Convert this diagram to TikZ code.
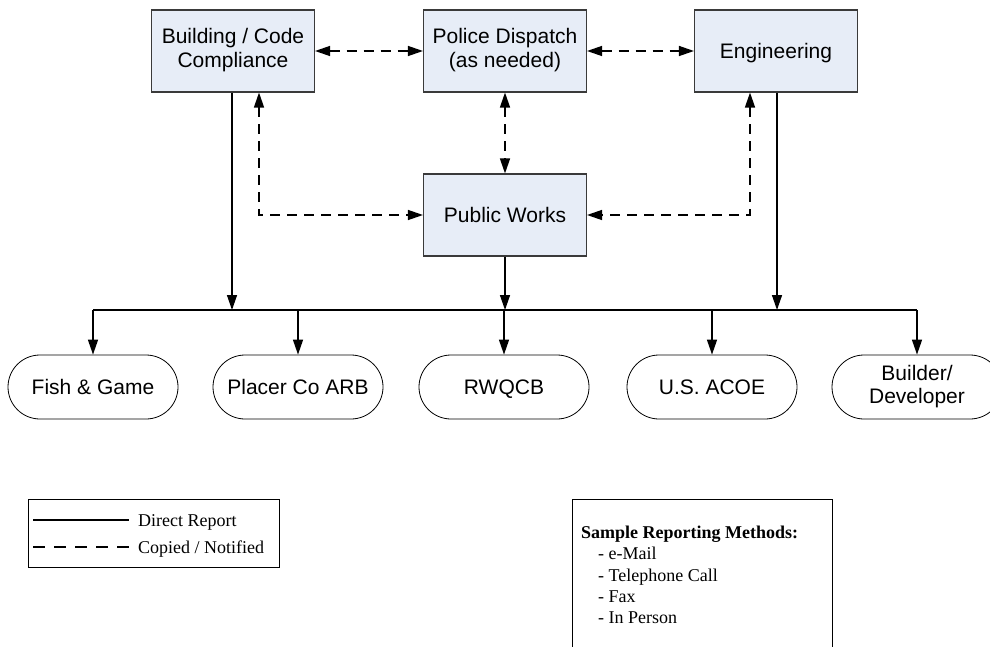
\documentclass[tikz,border=0pt]{standalone}
\usepackage{fontspec}
\newfontfamily\arialf{Liberation Sans}
\newfontfamily\timesf{Liberation Serif}
\usetikzlibrary{arrows.meta}
\definecolor{boxfill}{HTML}{E7EDF7}
\definecolor{boxline}{HTML}{3A3A3A}
\tikzset{
  unit/.style={draw=boxline, line width=1.1pt, fill=boxfill, minimum width=163pt, minimum height=82pt, inner sep=0pt, align=center, font=\arialf\fontsize{21}{25}\selectfont},
  term/.style={draw=black, line width=0.8pt, rounded corners=32pt, minimum width=170pt, minimum height=64pt, inner sep=0pt, align=center, font=\arialf\fontsize{21}{23}\selectfont},
  oneline/.style={text height=15pt, text depth=0pt},
  tip/.style={},
  solidln/.style={line width=1.4pt, -{Triangle[length=15pt,width=10pt]}},
  busln/.style={line width=1.4pt},
  dashln/.style={line width=1.4pt, dash pattern=on 10pt off 7pt, {Triangle[length=15pt,width=10pt]}-{Triangle[length=15pt,width=10pt]}},
  legtxt/.style={font=\timesf\fontsize{18}{21}\selectfont, inner sep=0pt, anchor=base west},
}
\begin{document}
\begin{tikzpicture}[x=1pt,y=-1pt]
\useasboundingbox (0,0) rectangle (990,647);
\clip (0,0) rectangle (990,647);
% top units
\node[unit] (bld) at (233,51) {\raisebox{-2.5pt}{\begin{tabular}{@{}c@{}}Building / Code\\[-1pt]Compliance\end{tabular}}};
\node[unit] (pol) at (505,51) {\raisebox{-2.5pt}{\begin{tabular}{@{}c@{}}Police Dispatch\\[-1pt](as needed)\end{tabular}}};
\node[unit, oneline] (eng) at (776,51) {Engineering};
\node[unit, oneline] (pw) at (505,215) {Public Works};
% terminals
\node[term, oneline] (fish) at (93,387) {Fish \& Game};
\node[term, oneline] (arb) at (298,387) {Placer Co ARB};
\node[term, oneline] (rwq) at (504,387) {RWQCB};
\node[term, oneline] (acoe) at (712,387) {U.S. ACOE};
\node[term] (bldr) at (917,387) {Builder/\\Developer};
% helper coordinates
\coordinate (bL) at (232,310);
\coordinate (bR) at (777,310);
\coordinate (dL) at (259,215);
\coordinate (dR) at (750,215);
% dashed notifications
\draw[dashln] (bld.east) -- (pol.west);
\draw[dashln] (pol.east) -- (eng.west);
\draw[dashln] (pol.south) -- (pw.north);
\draw[dashln] (bld.south -| dL) |- (pw.west);
\draw[dashln] (eng.south -| dR) |- (pw.east);
% direct reports
\draw[solidln] (bld.south -| bL) -- (bL);
\draw[solidln] (eng.south -| bR) -- (bR);
\draw[solidln] (pw.south) -- (pw.south |- bL);
\draw[busln] (fish.north |- bL) -- (bldr.north |- bL);
\draw[solidln] (fish.north |- bL) -- (fish.north);
\draw[solidln] (arb.north |- bL) -- (arb.north);
\draw[solidln] (rwq.north |- bL) -- (rwq.north);
\draw[solidln] (acoe.north |- bL) -- (acoe.north);
\draw[solidln] (bldr.north |- bL) -- (bldr.north);
% legend
\node[draw=black, line width=0.9pt, minimum width=251pt, minimum height=68pt, inner sep=0pt] (leg) at (153.5,533) {};
\coordinate (ls1) at (33,520);
\coordinate (ls2) at (129,520);
\coordinate (ld1) at (33,547);
\coordinate (ld2) at (129,547);
\draw[line width=1.2pt] (ls1) -- (ls2);
\draw[line width=1.2pt, dash pattern=on 12pt off 9pt] (ld1) -- (ld2);
\node[legtxt] (lt1) at (138,526) {Direct Report};
\node[legtxt] (lt2) at (138,553) {Copied / Notified};
% sample methods box
\coordinate (s1) at (572,660);
\coordinate (s2) at (572,499);
\coordinate (s3) at (832,499);
\coordinate (s4) at (832,660);
\draw[line width=0.9pt] (s1) -- (s2) -- (s3) -- (s4);
\node[legtxt] (sm0) at (581,538) {\bfseries Sample Reporting Methods:};
\node[legtxt] (sm1) at (598,559.5) {- e-Mail};
\node[legtxt] (sm2) at (598,581) {- Telephone Call};
\node[legtxt] (sm3) at (598,602) {- Fax};
\node[legtxt] (sm4) at (598,623) {- In Person};
\end{tikzpicture}
\end{document}
